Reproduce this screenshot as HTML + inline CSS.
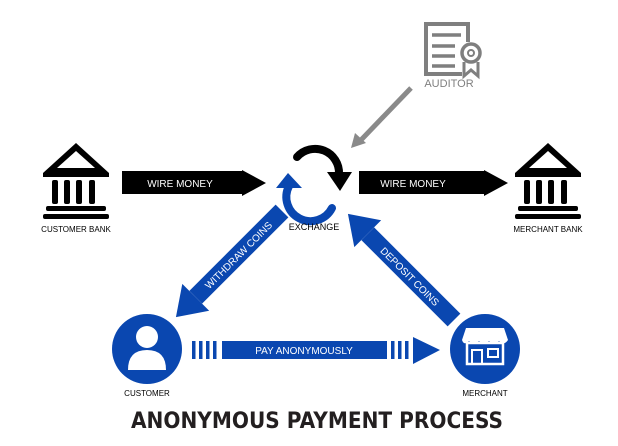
<!DOCTYPE html>
<html><head><style>
html,body{margin:0;padding:0;background:#fff;}
svg{display:block;font-family:"Liberation Sans",sans-serif;}
</style></head><body>
<svg width="618" height="446" viewBox="0 0 618 446">
<!-- auditor -->
<g fill="none" stroke="#7f7f7f" stroke-width="4">
<path d="M462 74 H426 V24 H468 V42"/>
</g>
<g stroke="#7f7f7f" stroke-width="3.5">
<line x1="432" y1="35" x2="461" y2="35"/>
<line x1="432" y1="46" x2="455" y2="46"/>
<line x1="432" y1="56" x2="455" y2="56"/>
<line x1="432" y1="66" x2="455" y2="66"/>
</g>
<circle cx="471" cy="53" r="9" fill="none" stroke="#7f7f7f" stroke-width="3.5"/>
<circle cx="471" cy="53" r="3" fill="none" stroke="#7f7f7f" stroke-width="2"/>
<path d="M464 62 V76 L471 70 L478 76 V62" fill="none" stroke="#7f7f7f" stroke-width="3"/>
<text x="449" y="87" font-size="11" fill="#7f7f7f" text-anchor="middle">AUDITOR</text>
<!-- gray arrow -->
<line x1="411" y1="88" x2="361" y2="140" stroke="#8a8a8a" stroke-width="5"/>
<polygon points="351,148 355,133 366,143" fill="#8a8a8a"/>
<!-- banks -->
<g id="bank">
<polygon points="76,143 43,173 109,173" fill="#000"/>
<polygon points="76,151 57,168 95,168" fill="#fff"/>
<rect x="43" y="173" width="66" height="4" fill="#000"/>
<rect x="52" y="180" width="6" height="24" rx="2" fill="#000"/>
<rect x="64" y="180" width="6" height="24" rx="2" fill="#000"/>
<rect x="76" y="180" width="6" height="24" rx="2" fill="#000"/>
<rect x="89" y="180" width="6" height="24" rx="2" fill="#000"/>
<rect x="46" y="206" width="60" height="5" rx="2" fill="#000"/>
<rect x="43" y="214" width="66" height="5" rx="2" fill="#000"/>
</g>
<use href="#bank" x="472"/>
<text x="76" y="232" font-size="8" text-anchor="middle">CUSTOMER BANK</text>
<text x="548" y="232" font-size="8" text-anchor="middle">MERCHANT BANK</text>
<!-- wire arrows -->
<polygon points="122,171 242,171 242,170 266,183 242,196 242,194 122,194" fill="#000"/>
<polygon points="359,171 484,171 484,170 508,183 484,196 484,194 359,194" fill="#000"/>
<text x="180" y="187" font-size="10" fill="#fff" text-anchor="middle">WIRE MONEY</text>
<text x="413" y="187" font-size="10" fill="#fff" text-anchor="middle">WIRE MONEY</text>
<!-- exchange -->
<path d="M297 157 A24 24 0 0 1 339 174" fill="none" stroke="#000" stroke-width="8" stroke-linecap="round"/>
<polygon points="327,172 352,172 340,191" fill="#000"/>
<path d="M332 208 A22 22 0 0 1 289 186" fill="none" stroke="#0a47b0" stroke-width="8" stroke-linecap="round"/>
<polygon points="276,188 302,188 288,173" fill="#0a47b0"/>
<text x="314" y="230" font-size="9" text-anchor="middle">EXCHANGE</text>
<!-- withdraw -->
<g transform="translate(282,211) rotate(135)">
<rect x="0" y="-9" width="122" height="18" fill="#0a47b0"/>
<polygon points="122,-19 150,0 122,19" fill="#0a47b0"/>
<text x="62" y="4" font-size="10" fill="#fff" text-anchor="middle" transform="rotate(180 62 0)">WITHDRAW COINS</text>
</g>
<!-- deposit -->
<g transform="translate(454,320) rotate(-135)">
<rect x="0" y="-9" width="122" height="18" fill="#0a47b0"/>
<polygon points="122,-19 150,0 122,19" fill="#0a47b0"/>
<text x="62" y="4" font-size="10" fill="#fff" text-anchor="middle" transform="rotate(180 62 0)">DEPOSIT COINS</text>
</g>
<!-- customer -->
<circle cx="147" cy="349" r="35" fill="#0a47b0"/>
<circle cx="147" cy="337" r="11" fill="#fff"/>
<path d="M128 370 Q128 350 147 350 Q166 350 166 370 Z" fill="#fff"/>
<text x="147" y="396" font-size="8" text-anchor="middle">CUSTOMER</text>
<!-- merchant -->
<circle cx="485" cy="349" r="35" fill="#0a47b0"/>
<path d="M466 328 H504 L508 340 Q504 346 499 341 Q494 346 489 341 Q484 346 479 341 Q474 346 469 341 Q464 346 462 340 Z" fill="#fff"/>
<rect x="467" y="343" width="36" height="21" fill="none" stroke="#fff" stroke-width="2.5"/>
<rect x="472" y="350" width="10" height="14" fill="none" stroke="#fff" stroke-width="2"/>
<rect x="488" y="349" width="10" height="8" fill="none" stroke="#fff" stroke-width="2"/>
<text x="485" y="396" font-size="8" text-anchor="middle">MERCHANT</text>
<!-- pay -->
<g fill="#0a47b0">
<rect x="192" y="341" width="3.5" height="18"/>
<rect x="199" y="341" width="3.5" height="18"/>
<rect x="206" y="341" width="3.5" height="18"/>
<rect x="213" y="341" width="3.5" height="18"/>
<rect x="222" y="341" width="165" height="18"/>
<rect x="391" y="341" width="3.5" height="18"/>
<rect x="398" y="341" width="3.5" height="18"/>
<rect x="405" y="341" width="3.5" height="18"/>
<polygon points="413,337 440,350 413,364"/>
</g>
<text x="304" y="354" font-size="10" fill="#fff" text-anchor="middle">PAY ANONYMOUSLY</text>
<!-- title -->
<text x="131" y="428" font-size="22" font-weight="bold" fill="#231f20" textLength="372" lengthAdjust="spacingAndGlyphs" font-family="'DejaVu Sans','Liberation Sans',sans-serif">ANONYMOUS PAYMENT PROCESS</text>
</svg>
</body></html>
